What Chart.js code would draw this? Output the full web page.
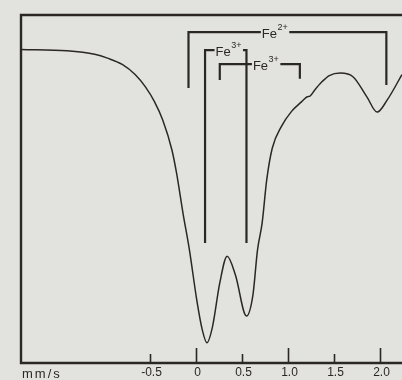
<!DOCTYPE html>
<html>
<head>
<meta charset="utf-8">
<script src="https://cdn.jsdelivr.net/npm/chart.js@4"></script>
<style>
  body { margin: 0; background: #e2e3df; }
  canvas { display: block; }
</style>
</head>
<body>
<canvas id="spectre" width="402" height="380"></canvas>
<script>
// Spectre Mössbauer : vitesse (mm/s) et transmission relative (%)
var vitesse = [-1.9, -1.4, -1.10, -0.96, -0.80, -0.66, -0.55, -0.45, -0.36, -0.26, -0.21, -0.14, -0.07,
  0.01, 0.07, 0.12, 0.18, 0.26, 0.34, 0.43, 0.55, 0.62, 0.67, 0.72, 0.77, 0.83, 0.93, 1.04, 1.15, 1.21,
  1.24, 1.29, 1.37, 1.45, 1.57, 1.71, 1.86, 1.97, 2.08, 2.24];
var transmission = [90.1, 89.7, 88.7, 87.6, 85.8, 82.9, 79.4, 75.1, 69.8, 61.2, 54.6, 43.1, 32.5,
  18.1, 9.5, 5.8, 10.3, 23.0, 30.7, 25.3, 13.5, 19.5, 32.5, 40.2, 52.6, 61.7, 68.0, 72.3, 75.1, 76.5,
  76.7, 78.4, 80.8, 82.6, 83.3, 82.2, 76.4, 72.1, 75.6, 82.9];

// graduations de l'axe des vitesses
var graduations = [-0.5, 0, 0.5, 1.0, 1.5, 2.0];
var etiquettes = ["-0.5", "0", "0.5", "1.0", "1.5", "2.0"];

// crochets d'attribution (doublets quadripolaires)
var fe2_x = [-0.08, -0.08, 2.07, 2.07];
var fe2_y = [79.0, 95.1, 95.1, 79.9];
var fe3a_x = [0.10, 0.10, 0.55, 0.55];
var fe3a_y = [34.5, 89.9, 89.9, 34.5];
var fe3b_x = [0.26, 0.26, 1.13, 1.13];
var fe3b_y = [81.3, 85.9, 85.9, 81.7];

var encre = "#2b2725";
var papier = "#e2e3df";

function points(xs, ys) {
  return xs.map(function (x, i) { return { x: x, y: ys[i] }; });
}

function crochet(xs, ys) {
  return {
    data: points(xs, ys),
    borderColor: encre,
    borderWidth: 2.2,
    pointRadius: 0,
    tension: 0,
    borderCapStyle: "butt",
    borderJoinStyle: "miter"
  };
}

// étiquettes Fe2+/Fe3+ posées sur les crochets, avec une coupure dans le trait
var ions = [
  { charge: "2+", x: 0.717, y: 95.1 },
  { charge: "3+", x: 0.214, y: 89.9 },
  { charge: "3+", x: 0.62, y: 85.9 }
];

var cadre = {
  id: "cadre",
  afterDraw: function (chart) {
    var ctx = chart.ctx;
    var a = chart.chartArea;
    var sx = chart.scales.x, sy = chart.scales.y;
    ctx.save();
    ctx.strokeStyle = encre;
    ctx.fillStyle = encre;
    // cadre : gauche, haut, bas
    ctx.lineWidth = 2.4;
    ctx.beginPath();
    ctx.moveTo(a.right + 2, a.top);
    ctx.lineTo(a.left, a.top);
    ctx.lineTo(a.left, a.bottom);
    ctx.lineTo(a.right + 2, a.bottom);
    ctx.stroke();
    // graduations vers l'intérieur
    ctx.lineWidth = 1.6;
    ctx.font = "12px 'Liberation Sans'";
    ctx.textAlign = "center";
    ctx.textBaseline = "middle";
    graduations.forEach(function (v, i) {
      var px = Math.round(sx.getPixelForValue(v)) + 0.5;
      var h = Number.isInteger(v) ? 15 : 9;
      ctx.beginPath();
      ctx.moveTo(px, a.bottom);
      ctx.lineTo(px, a.bottom - h);
      ctx.stroke();
      ctx.fillText(etiquettes[i], px + 1, a.bottom + 10);
    });
    ctx.textAlign = "left";
    ctx.font = "13px 'Liberation Sans'";
    ctx.letterSpacing = "2px";
    ctx.fillText("mm/s", a.left + 1, a.bottom + 11);
    ctx.letterSpacing = "0px";
    // ions
    ions.forEach(function (ion) {
      var px = sx.getPixelForValue(ion.x);
      var py = sy.getPixelForValue(ion.y);
      ctx.font = "13px 'Liberation Sans'";
      var w1 = ctx.measureText("Fe").width;
      ctx.font = "9px 'Liberation Sans'";
      var w2 = ctx.measureText(ion.charge).width;
      ctx.fillStyle = papier;
      ctx.fillRect(px - 1, py - 3, w1 + w2 + 3, 6);
      ctx.fillStyle = encre;
      ctx.textAlign = "left";
      ctx.font = "13px 'Liberation Sans'";
      ctx.fillText("Fe", px, py + 2);
      ctx.font = "9px 'Liberation Sans'";
      ctx.fillText(ion.charge, px + w1 + 0.5, py - 5);
    });
    ctx.restore();
  }
};

new Chart(document.getElementById("spectre"), {
  type: "line",
  data: {
    datasets: [
      {
        data: points(vitesse, transmission),
        borderColor: encre,
        borderWidth: 1.5,
        pointRadius: 0,
        cubicInterpolationMode: "monotone"
      },
      crochet(fe2_x, fe2_y),
      crochet(fe3a_x, fe3a_y),
      crochet(fe3b_x, fe3b_y)
    ]
  },
  options: {
    responsive: false,
    devicePixelRatio: 1,
    animation: false,
    layout: { padding: { left: 21, right: 0, top: 15, bottom: 17 } },
    plugins: { legend: { display: false }, tooltip: { enabled: false } },
    scales: {
      x: { type: "linear", min: -1.9, max: 2.24, display: false },
      y: { min: 0, max: 100, display: false }
    }
  },
  plugins: [cadre]
});
</script>
</body>
</html>
